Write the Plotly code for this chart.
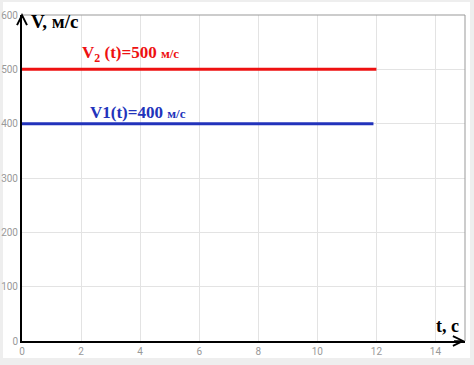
import plotly.graph_objects as go

t_v2 = [0, 12]
v2 = [500, 500]
t_v1 = [0, 11.9]
v1 = [400, 400]
x_ticks = [0, 2, 4, 6, 8, 10, 12, 14]
y_ticks = [0, 100, 200, 300, 400, 500, 600]

fig = go.Figure()
fig.add_trace(go.Scatter(x=t_v2, y=v2, mode="lines", line=dict(color="#ee1111", width=3), hoverinfo="skip"))
fig.add_trace(go.Scatter(x=t_v1, y=v1, mode="lines", line=dict(color="#2233bb", width=3), hoverinfo="skip"))

L, R, T, B = 22, 9, 15, 24
W, H = 474, 365
pw, ph = W - L - R, H - T - B

def px_x(p):
    return (p - L) / pw

def px_y(p):
    return (H - B - p) / ph

shapes = [
    dict(type="rect", xref="paper", yref="paper", x0=px_x(3), x1=px_x(470), y0=px_y(358), y1=px_y(2),
         fillcolor="white", line=dict(width=0), layer="below"),
    dict(type="line", xref="paper", yref="paper", x0=0, x1=1, y0=1, y1=1, line=dict(color="#999999", width=1)),
    dict(type="line", xref="paper", yref="paper", x0=1, x1=1, y0=0, y1=1, line=dict(color="#999999", width=1)),
]

serif = "Liberation Serif"
annotations = [
    dict(x=0.25, y=588, xref="x", yref="y", text="<b>V, м/с</b>", showarrow=False, xanchor="left",
         font=dict(family=serif, size=19, color="black")),
    dict(x=14.4, y=28, xref="x", yref="y", text="<b>t, с</b>", showarrow=False, xanchor="center",
         font=dict(family=serif, size=18, color="black")),
    dict(x=1.95, y=528, xref="x", yref="y",
         text="<b>V<sub>2</sub> (t)=500 <span style='font-size:13px'>м/с</span></b>", showarrow=False, xanchor="left",
         font=dict(family=serif, size=17, color="#ee1111")),
    dict(x=2.25, y=420, xref="x", yref="y",
         text="<b>V1(t)=400 <span style='font-size:13px'>м/с</span></b>", showarrow=False, xanchor="left",
         font=dict(family=serif, size=17, color="#2233bb")),
    # axis arrow heads
    dict(x=0, y=600, xref="x", yref="y", ax=0, ay=14, yshift=2, showarrow=True, text=" ",
         arrowhead=5, arrowsize=1.3, arrowwidth=1.5, arrowcolor="black"),
    dict(x=15, y=0, xref="x", yref="y", ax=-14, ay=0, showarrow=True, text=" ",
         arrowhead=5, arrowsize=1.3, arrowwidth=1.5, arrowcolor="black"),
]

fig.update_layout(
    width=W, height=H,
    margin=dict(l=L, r=R, t=T, b=B, autoexpand=False),
    paper_bgcolor="#eeeeee",
    plot_bgcolor="white",
    showlegend=False,
    shapes=shapes,
    annotations=annotations,
    xaxis=dict(range=[0, 15], tickvals=x_ticks, ticktext=[str(v) for v in x_ticks], automargin=False,
               showgrid=True, gridcolor="#e3e3e3", gridwidth=1, zeroline=False,
               showline=True, linecolor="black", linewidth=2, ticks="", ticklen=0,
               tickfont=dict(family="Roboto", size=10, color="#999999")),
    yaxis=dict(range=[0, 600], tickvals=y_ticks, ticktext=[str(v) for v in y_ticks], automargin=False,
               showgrid=True, gridcolor="#e3e3e3", gridwidth=1, zeroline=False,
               showline=True, linecolor="black", linewidth=2, ticks="", ticklen=0,
               tickfont=dict(family="Roboto", size=10, color="#999999")),
)

fig.write_html("out.html", config={"displayModeBar": False},
               post_script="document.body.style.margin='0px';")
